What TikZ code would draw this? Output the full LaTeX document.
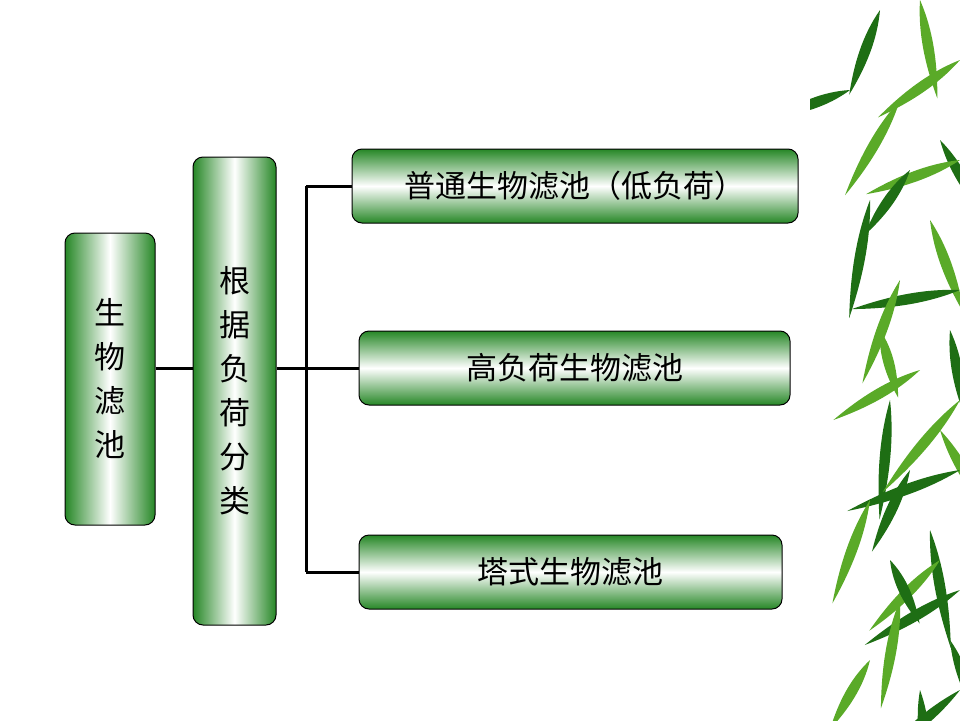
\documentclass[tikz,border=0pt]{standalone}
\usepackage{fontspec}
\setmainfont{Noto Sans CJK SC}
\definecolor{boxgreen}{RGB}{38,135,38}
\definecolor{leafdark}{RGB}{30,110,20}
\definecolor{leaflight}{RGB}{90,170,40}
\tikzset{
  vbox/.style={draw=black, line width=1pt, rounded corners=10pt, left color=boxgreen, right color=boxgreen, middle color=white, text width=36pt, align=center, inner sep=0pt, font=\fontsize{31}{44}\selectfont},
  hbox/.style={draw=black, line width=1pt, rounded corners=10pt, top color=boxgreen, bottom color=boxgreen, middle color=white, inner sep=0pt, font=\fontsize{31}{36}\selectfont},
  link/.style={line width=3pt}
}
\begin{document}
\begin{tikzpicture}[x=1pt, y=-1pt]
    \useasboundingbox (0,0) rectangle (960,720);

    % bamboo leaves at the right edge
    \begin{scope}
        \clip (810,0) rectangle (960,720);
        \foreach \x/\y/\a/\l/\c in {880/10/250/90/leafdark, 920/0/280/100/leaflight, 850/90/200/80/leafdark,
            900/100/240/110/leaflight, 940/140/300/90/leafdark, 960/160/200/100/leaflight, 870/200/260/120/leafdark,
            930/220/290/100/leaflight, 960/290/190/110/leafdark, 900/280/250/110/leaflight, 950/330/280/90/leafdark,
            920/370/210/100/leaflight, 890/400/265/120/leafdark, 940/430/300/100/leaflight, 960/470/200/120/leafdark,
            870/500/250/110/leaflight, 930/530/280/120/leafdark, 960/590/210/110/leafdark, 900/600/260/110/leaflight,
            950/640/290/90/leafdark, 870/660/240/80/leaflight, 920/690/275/90/leafdark, 960/60/215/100/leaflight,
            960/400/230/120/leaflight, 940/560/225/100/leaflight, 910/170/235/80/leafdark, 910/470/245/90/leafdark,
            960/690/220/110/leafdark, 880/330/285/70/leaflight, 890/560/295/70/leafdark}
        {
            \begin{scope}[shift={(\x,\y)}, rotate=\a]
                \fill[\c] (0,0) .. controls (\l/3,8) and (2*\l/3,6) .. (\l,0) .. controls (2*\l/3,-6) and (\l/3,-8) .. (0,0);
            \end{scope}
        }
    \end{scope}

    % main boxes
    \node[vbox, minimum width=90pt, minimum height=292pt] (filter) at (110,379) {生\\物\\滤\\池};
    \node[vbox, minimum width=83pt, minimum height=468pt] (load) at (234.5,391) {根\\据\\负\\荷\\分\\类};
    \node[hbox, minimum width=446pt, minimum height=74pt] (low) at (575,186) {普通生物滤池（低负荷）};
    \node[hbox, minimum width=431pt, minimum height=74pt] (high) at (574.5,368) {高负荷生物滤池};
    \node[hbox, minimum width=423pt, minimum height=74pt] (tower) at (570.5,572) {塔式生物滤池};

    % connectors
    \coordinate (bus) at (306,368);
    \draw[link] (filter.east |- 0,368) -- (load.west |- 0,368);
    \draw[link] (load.east |- bus) -- (bus);
    \draw[link] (bus |- low.west) -- (bus |- tower.west);
    \draw[link] (bus |- low.west) -- (low.west);
    \draw[link] (bus) -- (high.west);
    \draw[link] (bus |- tower.west) -- (tower.west);
\end{tikzpicture}
\end{document}
